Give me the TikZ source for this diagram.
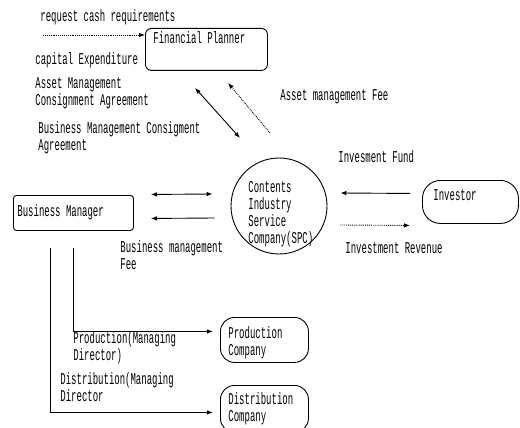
\documentclass[tikz,border=0pt]{standalone}
\usepackage{fontspec}
\setmainfont{Liberation Mono}[FakeStretch=0.545]
\usetikzlibrary{arrows.meta,calc}
\begin{document}
\begin{tikzpicture}[x=1pt,y=-1pt, line width=0.9pt,
  font=\fontsize{16.5}{17}\selectfont,
  txt/.style={inner sep=0pt, anchor=west, align=left},
  shapebox/.style={draw, inner sep=0pt, anchor=north west},
  arr/.style={-{Latex[length=6pt,width=4.5pt]}},
  darr/.style={{Latex[length=6pt,width=4.5pt]}-{Latex[length=6pt,width=4.5pt]}},
  dots/.style={densely dotted}]
\useasboundingbox (0,0) rectangle (520,428);

% shapes
\node[shapebox, rounded corners=6pt, minimum width=122pt, minimum height=42pt] (fp) at (145,28) {};
\node[txt] (fpt) at (153,38) {Financial Planner};

\node[draw, circle, minimum size=96pt, inner sep=0pt] (spc) at (279,206) {};
\node[txt] (spct) at (248,214) {Contents\\Industry\\Service\\Company(SPC)};

\node[shapebox, rounded corners=18pt, minimum width=96pt, minimum height=43pt] (inv) at (422,180) {};
\node[txt] (invt) at (433,195) {Investor};

\node[shapebox, rounded corners=3pt, minimum width=120pt, minimum height=35pt] (bm) at (13,195) {};
\node[txt] (bmt) at (17,212) {Business Manager};

\node[shapebox, rounded corners=14pt, minimum width=88pt, minimum height=45pt] (prod) at (220,317) {};
\node[txt] (prodt) at (228,343) {Production\\Company};

\node[shapebox, rounded corners=14pt, minimum width=88pt, minimum height=47pt] (dist) at (220,385) {};
\node[txt] (distt) at (228,409) {Distribution\\Company};

% labels
\node[txt] (l1) at (40,17) {request cash requirements};
\node[txt] (l2) at (35,60) {capital Expenditure};
\node[txt] (l3) at (35,93) {Asset Management\\Consignment Agreement};
\node[txt] (l4) at (38,138) {Business Management Consigment\\Agreement};
\node[txt] (l5) at (280,97) {Asset management Fee};
\node[txt] (l6) at (338,157) {Invesment Fund};
\node[txt] (l7) at (345,248) {Investment Revenue};
\node[txt] (l8) at (120,255) {Business management\\Fee};
\node[txt] (l9) at (73,348) {Production(Managing\\Director)};
\node[txt] (l10) at (60,387) {Distribution(Managing\\Director};

% connectors
\coordinate (rcs) at (43,35);
\draw[arr, dots] (rcs) -- (rcs -| fp.west);
\draw[darr] ($(fp.south west)+(50,17)$) -- ($(spc.center)+(-39,-68)$);
\draw[arr, dots] ($(spc.center)+(-9,-73)$) -- ($(fp.south west)+(83,12)$);
\draw[darr] ($(bm.east)+(17,-18.5)$) -- ($(spc.west)+(-18,-12)$);
\draw[arr] ($(spc.west)+(-16,12)$) -- ($(bm.east)+(17,5.5)$);
\draw[arr] ($(inv.west)+(-12,-8.5)$) -- ($(spc.east)+(13,-13)$);
\draw[arr, dots] ($(spc.east)+(13,19)$) -- ($(inv.west)+(-12,23.5)$);
\draw[arr] ($(bm.south west)+(60,17)$) |- ($(prod.west)+(-7,-8.5)$);
\draw[arr] ($(bm.south west)+(37,17)$) |- ($(dist.west)+(-7,3.5)$);
\end{tikzpicture}
\end{document}
